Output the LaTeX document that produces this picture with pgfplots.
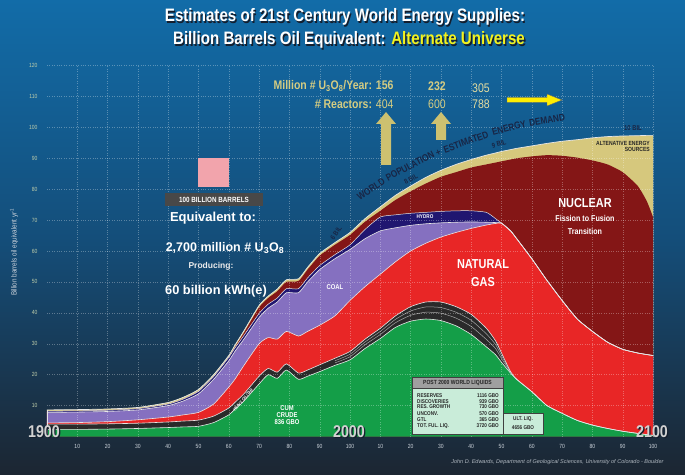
\documentclass[border=0pt]{standalone}
\usepackage{pgfplots}
\pgfplotsset{compat=1.18}
\usepackage{pgfplotstable}
\usepackage{fontspec}
\setmainfont{Liberation Sans}
\newfontfamily\cond[FakeStretch=0.84]{Liberation Sans}
\usetikzlibrary{arrows.meta}

\definecolor{bgtop}{RGB}{18,108,168}
\definecolor{bgmid}{RGB}{20,78,122}
\definecolor{bgbot}{RGB}{28,38,50}
\definecolor{cgreen}{RGB}{20,158,72}
\definecolor{cdark}{RGB}{42,42,42}
\definecolor{cred}{RGB}{232,38,38}
\definecolor{cpurple}{RGB}{133,112,192}
\definecolor{cnavy}{RGB}{32,22,112}
\definecolor{cmaroon}{RGB}{132,22,22}
\definecolor{ckhaki}{RGB}{214,200,125}
\definecolor{cline}{RGB}{230,230,230}
\definecolor{ctitle}{RGB}{242,242,30}
\definecolor{ckh}{RGB}{212,204,130}
\definecolor{ckh2}{RGB}{226,220,160}
\definecolor{cnavytxt}{RGB}{24,38,70}
\definecolor{cpink}{RGB}{242,164,172}
\definecolor{cbox}{RGB}{72,72,72}
\definecolor{cmint}{RGB}{201,236,217}
\definecolor{cylab}{RGB}{190,205,170}
\definecolor{cxlab}{RGB}{205,212,220}
\definecolor{cfoot}{RGB}{176,184,192}
\definecolor{cshadow}{RGB}{20,30,45}

\newcommand\shad[1]{\rlap{\kern1.3pt\raisebox{-1.3pt}{\color{cshadow}#1}}#1}

\pgfplotstableread{
yr    g     d     gas   coal  hyd   nuc   tot
1900  2.3   4.0   4.4   7.8   8.2   8.2   8.6
1910  2.3   4.0   4.5   7.9   8.3   8.3   8.7
1920  2.4   4.1   4.8   8.1   8.5   8.5   8.9
1930  2.6   4.3   5.4   8.6   9.0   9.0   9.4
1940  2.9   4.7   6.3   10.0  10.5  10.5  11.0
1945  3.1   5.0   7.0   11.5  12.1  12.1  12.7
1950  3.3   5.3   7.8   13.8  14.6  14.6  15.2
1955  4.5   6.6   10.5  18.5  19.4  19.4  20.0
1960  7.0   9.2   16.0  24.5  25.6  25.6  26.2
1962  8.8   11.0  18.5  27.5  28.6  28.9  29.5
1965  11.5  13.8  23.0  31.5  32.7  33.6  34.2
1970  17.0  19.5  30.0  38.5  39.8  41.8  42.4
1973  20.0  22.0  32.0  41.5  42.8  44.8  45.4
1976  18.8  20.8  31.5  43.5  44.8  47.0  47.7
1979  21.5  23.5  34.0  46.5  47.8  50.0  50.7
1983  18.5  20.5  32.5  46.5  47.8  50.3  51.0
1986  19.5  21.5  34.0  50.0  51.3  54.0  54.7
1990  21.0  23.2  36.0  54.0  55.3  58.5  59.2
1995  23.0  25.3  39.0  57.5  58.8  62.0  62.7
2000  24.8  27.5  44.0  60.5  62.0  65.2  66.0
2005  28.5  31.5  48.5  64.0  67.0  69.5  70.5
2010  31.7  35.0  52.5  66.5  71.0  73.0  74.3
2015  35.3  39.0  56.5  67.5  71.7  76.5  78.0
2020  37.3  42.0  60.0  68.3  72.2  79.3  81.0
2025  38.0  43.5  62.5  68.8  72.5  81.8  83.8
2030  37.5  43.5  64.5  69.1  72.8  84.0  86.1
2035  35.8  42.0  66.0  69.3  73.0  85.5  88.0
2040  33.0  39.5  67.3  69.4  73.0  87.0  89.6
2045  29.0  35.0  68.4  69.3  72.5  88.0  91.0
2048  26.5  31.0  68.9  69.2  70.5  88.6  91.7
2050  24.0  27.0  69.0  69.0  69.0  89.0  92.2
2053  20.5  21.0  66.5  66.5  66.5  89.6  92.8
2055  18.5  18.5  64.0  64.0  64.0  90.0  93.2
2060  14.5  14.5  57.5  57.5  57.5  90.6  94.0
2065  10.0  10.0  50.5  50.5  50.5  91.0  94.8
2070  7.5   7.5   44.0  44.0  44.0  90.8  95.5
2075  5.2   5.2   38.0  38.0  38.0  90.2  96.0
2080  3.7   3.7   34.0  34.0  34.0  89.3  96.6
2085  2.6   2.6   30.5  30.5  30.5  88.0  97.0
2090  1.7   1.7   28.2  28.2  28.2  85.5  97.2
2095  1.0   1.0   27.0  27.0  27.0  81.0  97.3
2098  0.6   0.6   26.5  26.5  26.5  76.0  97.4
2100  0.4   0.4   26.2  26.2  26.2  71.0  97.4
}\energy

\pgfplotstableread{
yr    a     b
1995  23.8  24.5
2000  25.8  26.6
2005  29.7  30.6
2010  33.0  34.0
2015  36.8  37.9
2020  39.2  40.6
2025  40.2  41.9
2030  39.9  41.7
2035  38.3  40.2
2040  35.6  37.6
2045  31.4  33.2
2048  28.5  29.8
2050  25.2  26.1
2053  20.7  20.8
}\inner

\begin{document}
\begin{tikzpicture}
\shade[top color=bgtop, bottom color=bgbot, middle color=bgmid] (0,0) rectangle (685pt,474pt);
\path[use as bounding box] (0,0) rectangle (685pt,474pt);

\begin{axis}[
  at={(47pt,37.5pt)}, anchor=south west,
  scale only axis, width=606pt, height=371pt,
  xmin=1900, xmax=2100, ymin=0, ymax=120,
  axis line style={draw=none}, tick style={draw=none},
  xtick={1910,1920,...,2100},
  xticklabels={10,20,30,40,50,60,70,80,90,100,10,20,30,40,50,60,70,80,90,100},
  ytick={10,20,...,120},
  grid=major,
  major grid style={dotted, white, opacity=0.3, line width=0.4pt},
  axis on top,
  /pgf/number format/assume math mode=true,
  xticklabel style={font=\cond\fontsize{6}{7}\selectfont, text=cxlab, yshift=-4pt},
  yticklabel style={font=\cond\fontsize{6}{7}\selectfont, text=cylab, xshift=-6pt},
  every axis plot/.append style={smooth, tension=0.35},
]
\addplot[fill=ckhaki, draw=none] table[x=yr,y=tot]{\energy} \closedcycle;
\addplot[fill=cmaroon, draw=none] table[x=yr,y=nuc]{\energy} \closedcycle;
\addplot[fill=cnavy, draw=none] table[x=yr,y=hyd]{\energy} \closedcycle;
\addplot[fill=cpurple, draw=none] table[x=yr,y=coal]{\energy} \closedcycle;
\addplot[fill=cred, draw=none] table[x=yr,y=gas]{\energy} \closedcycle;
\addplot[fill=cdark, draw=none] table[x=yr,y=d]{\energy} \closedcycle;
\addplot[fill=cgreen, draw=none] table[x=yr,y=g]{\energy} \closedcycle;

\addplot[gray!70, line width=0.5pt] table[x=yr,y=a]{\inner};
\addplot[gray!70, line width=0.5pt] table[x=yr,y=b]{\inner};
\addplot[cline, line width=0.6pt] table[x=yr,y=g]{\energy};
\addplot[cline, line width=0.6pt] table[x=yr,y=d]{\energy};
\addplot[cline, line width=0.6pt] table[x=yr,y=gas]{\energy};
\addplot[cline, line width=0.6pt] table[x=yr,y=coal]{\energy};
\addplot[cline, line width=0.5pt] table[x=yr,y=hyd]{\energy};
\addplot[cline, line width=0.7pt] table[x=yr,y=tot]{\energy};
\addplot[cline, line width=0.6pt, sharp plot] coordinates {(2100,0) (2100,97.4)};
\addplot[cline, line width=0.6pt, sharp plot] coordinates {(1900,0) (1900,8.6)};
\end{axis}

\begin{scope}[x=1pt, y=-1pt, yshift=474pt]
% title
\node[font=\cond\bfseries\fontsize{18}{20}\selectfont, text=white] at (345,18) {\shad{Estimates of 21st Century World Energy Supplies:}};
\node[font=\cond\bfseries\fontsize{18}{20}\selectfont, text=white] at (349,41) {\rlap{\kern1.3pt\raisebox{-1.3pt}{\color{cshadow}Billion Barrels Oil Equivalent: Alternate Universe}}Billion Barrels Oil Equivalent: \textcolor{ctitle}{Alternate Universe}};

% y label
\node[rotate=90, font=\cond\fontsize{7.5}{8}\selectfont, text=cxlab] at (14,252) {Billion barrels oil equivalent yr\textsuperscript{-1}};

% left annotation
\fill[cpink] (198,158) rectangle (229,187);
\fill[cbox] (165,193) rectangle (263,206);
\node[font=\cond\bfseries\fontsize{7.5}{8}\selectfont, text=white] at (214,199.5) {100 BILLION BARRELS};
\node[font=\bfseries\fontsize{13}{14}\selectfont, text=white] at (213,218) {Equivalent to:};
\node[font=\bfseries\fontsize{12.5}{14}\selectfont, text=white] at (225,248) {2,700 million \# U\textsubscript{3}O\textsubscript{8}};
\node[font=\bfseries\fontsize{8.5}{9}\selectfont, text=white!85!gray] at (211,266.5) {Producing:};
\node[font=\bfseries\fontsize{12.8}{14}\selectfont, text=white] at (216,291.5) {60 billion kWh(e)};

% uranium annotation
\node[anchor=east, font=\cond\bfseries\fontsize{12.5}{14}\selectfont, text=ckh] at (397,86) {Million \# U\textsubscript{3}O\textsubscript{8}/Year: 156};
\node[anchor=east, font=\cond\fontsize{12.5}{14}\selectfont, text=ckh] at (397,104) {\bfseries \# Reactors: \mdseries 404};
\node[font=\cond\bfseries\fontsize{12.5}{14}\selectfont, text=ckh] at (437,86) {232};
\node[font=\cond\fontsize{12.5}{14}\selectfont, text=ckh] at (437,104) {600};
\node[font=\cond\fontsize{12.5}{14}\selectfont, text=ckh2] at (481,88) {305};
\node[font=\cond\fontsize{12.5}{14}\selectfont, text=ckh2] at (481,104) {788};
\fill[ckhaki!90!olive] (381,165) -- (391,165) -- (391,124) -- (396,124) -- (386,112) -- (376,124) -- (381,124) -- cycle;
\fill[ckhaki!90!olive] (436,140) -- (446,140) -- (446,124) -- (451,124) -- (441,112) -- (431,124) -- (436,124) -- cycle;
\filldraw[fill=yellow!95!orange, draw=black!60, line width=0.4pt] (507,97.5) -- (547,97.5) -- (547,94) -- (562,100) -- (547,106) -- (547,102.5) -- (507,102.5) -- cycle;

% demand curve text (word by word along the curve)
\begin{scope}[every node/.style={font=\cond\bfseries\fontsize{9.8}{10}\selectfont, text=cnavytxt, inner sep=0.5pt}]
\node[rotate=33] at (371,189) {WORLD};
\node[rotate=28] at (410,166) {POPULATION};
\node[rotate=23] at (438.5,152.5) {+};
\node[rotate=20] at (466,142) {ESTIMATED};
\node[rotate=15] at (509,128) {ENERGY};
\node[rotate=10] at (547,120) {DEMAND};
\end{scope}
\begin{scope}[every node/.style={font=\cond\bfseries\fontsize{7}{8}\selectfont, text=cnavytxt, inner sep=0.5pt}]
\node[rotate=55] at (336,233) {6 BIL};
\node[rotate=30] at (411,179) {8 BIL};
\node[rotate=15] at (499,144) {9 BIL};
\node at (633,128) {10 BIL};
\end{scope}
\node[anchor=east, font=\cond\bfseries\fontsize{6}{7}\selectfont, text=black!85, align=right, inner sep=0pt] at (650,146.5) {ALTENATIVE ENERGY\\[-1.5pt]SOURCES};

% layer labels
\node[font=\cond\bfseries\fontsize{5.5}{6}\selectfont, text=white] at (425,217) {HYDRO};
\node[font=\cond\bfseries\fontsize{7}{8}\selectfont, text=white] at (335,287) {COAL};
\node[font=\cond\bfseries\fontsize{13}{14}\selectfont, text=white] at (483,264) {NATURAL};
\node[font=\cond\bfseries\fontsize{13}{14}\selectfont, text=white] at (483,282) {GAS};
\node[font=\cond\bfseries\fontsize{13}{14}\selectfont, text=white] at (585,203) {NUCLEAR};
\node[font=\cond\bfseries\fontsize{8.5}{9}\selectfont, text=white] at (585,218) {Fission to Fusion};
\node[font=\cond\bfseries\fontsize{8.5}{9}\selectfont, text=white] at (585,231) {Transition};
\node[rotate=50, font=\cond\bfseries\fontsize{4.5}{5}\selectfont, text=white, inner sep=0pt] at (243,400) {HEAVY OIL/TAR};
\node[font=\cond\bfseries\fontsize{7}{8}\selectfont, text=white, align=center, inner sep=0pt] at (287,415) {CUM\\[-1pt]CRUDE\\[-1pt]836 GBO};

% liquids table
\filldraw[fill=gray!75, draw=black!75, line width=0.6pt] (412,377) rectangle (503,388);
\node[font=\cond\bfseries\fontsize{6}{7}\selectfont, text=black!85] at (457.5,382.5) {POST 2000 WORLD LIQUIDS};
\filldraw[fill=cmint, draw=black!75, line width=0.6pt] (412,388) rectangle (503,434);
\filldraw[fill=cmint, draw=black!75, line width=0.6pt] (503,413) rectangle (543,434);
\begin{scope}[every node/.style={font=\cond\bfseries\fontsize{5.5}{6}\selectfont, text=black!85, inner sep=0pt}]
\node[anchor=west] at (417,396) {RESERVES};
\node[anchor=west] at (417,401.5) {DISCOVERIES};
\node[anchor=west] at (417,407) {RES. GROWTH};
\node[anchor=west] at (417,413.5) {UNCONV.};
\node[anchor=west] at (417,419.5) {GTL};
\node[anchor=west] at (417,426) {TOT. FUL. LIQ.};
\node[anchor=east] at (499,396) {1116 GBO};
\node[anchor=east] at (499,401.5) {939 GBO};
\node[anchor=east] at (499,407) {730 GBO};
\node[anchor=east] at (499,413.5) {570 GBO};
\node[anchor=east] at (499,419.5) {365 GBO};
\node[anchor=east] at (499,426) {3720 GBO};
\node at (523,419) {ULT. LIQ.};
\node at (523,428) {4656 GBO};
\end{scope}

% big year labels
\foreach \x/\t in {44/1900, 349/2000, 652/2100}{
  \node[font=\cond\bfseries\fontsize{17}{18}\selectfont, text=gray!35] at (\x,432) {\shad{\t}};
}

% footer
\node[anchor=east, font=\itshape\fontsize{5.5}{6}\selectfont, text=cfoot] at (667,462) {John D. Edwards, Department of Geological Sciences, University of Colorado - Boulder};
\end{scope}
\end{tikzpicture}
\end{document}
